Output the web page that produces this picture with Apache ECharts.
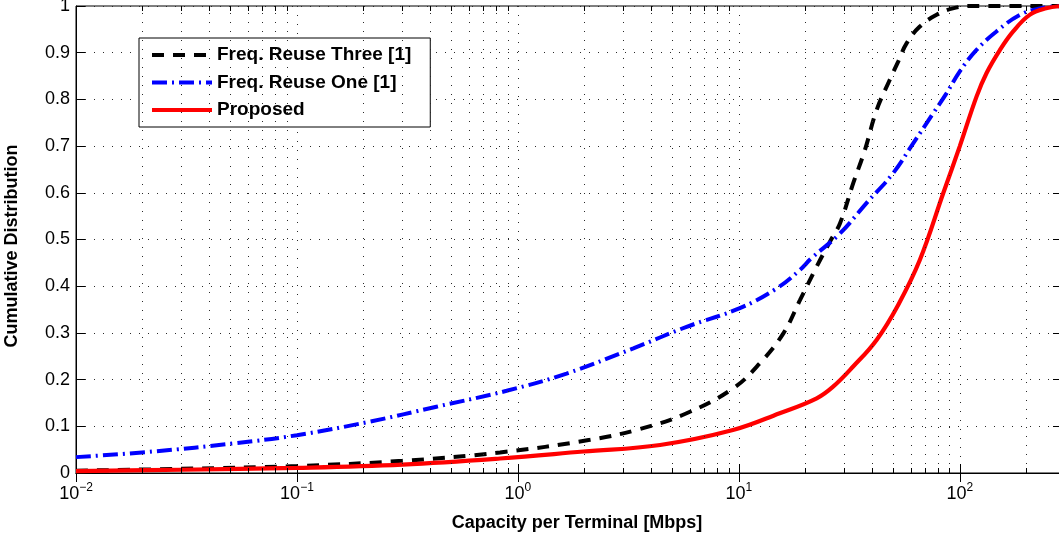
<!DOCTYPE html>
<html>
<head>
<meta charset="utf-8">
<script src="https://cdn.jsdelivr.net/npm/echarts@6/dist/echarts.min.js"></script>
<style>
  html, body { margin: 0; padding: 0; background: #fff; }
  #chart { width: 1059px; height: 535px; }
</style>
</head>
<body>
<div id="chart"></div>
<script>
// ---- Data ----
const seriesNames = ['Freq. Reuse Three [1]', 'Freq. Reuse One [1]', 'Proposed'];
const xTitle = 'Capacity per Terminal [Mbps]';
const yTitle = 'Cumulative Distribution';

const xThree = [0.01, 0.03, 0.1, 0.3, 0.83, 2.12, 3.56, 5.8, 9.4, 12.45, 15.9, 18.9, 22.5, 25.8, 28.7, 32.9, 37.2, 42, 48.2, 52.6, 57.4, 65.9, 78.5, 93, 115, 290];
const yThree = [0.005, 0.009, 0.015, 0.026, 0.044, 0.071, 0.094, 0.128, 0.181, 0.235, 0.299, 0.37, 0.442, 0.495, 0.535, 0.62, 0.692, 0.777, 0.842, 0.881, 0.92, 0.956, 0.981, 0.995, 1.0, 1.0];

const xOne = [0.01, 0.0223, 0.053, 0.1, 0.214, 0.428, 0.889, 1.66, 3.33, 5.8, 10.1, 14.8, 18.9, 21.3, 28.7, 37.8, 49.9, 61.5, 75.7, 87, 100, 119, 146, 187, 230, 290];
const yOne = [0.034, 0.046, 0.064, 0.081, 0.11, 0.142, 0.176, 0.213, 0.267, 0.313, 0.353, 0.395, 0.435, 0.46, 0.513, 0.578, 0.642, 0.706, 0.77, 0.813, 0.86, 0.906, 0.945, 0.981, 0.995, 1.0];

const xProp = [0.01, 0.03, 0.1, 0.3, 0.83, 1.98, 4.4, 9.4, 15.3, 22.5, 26.7, 32.9, 42, 52.6, 65.9, 84.1, 100, 119, 132, 152, 174, 207, 246, 290];
const yProp = [0.004, 0.007, 0.011, 0.018, 0.031, 0.046, 0.06, 0.092, 0.128, 0.16, 0.185, 0.228, 0.285, 0.36, 0.456, 0.599, 0.70, 0.806, 0.856, 0.906, 0.945, 0.981, 0.995, 1.0];

// axis settings
const xMin = 0.01, xMax = 290;
const decades = [0.01, 0.1, 1, 10, 100];
const minorMultipliers = [2, 3, 4, 5, 6, 7, 8, 9];
const yTicks = [0, 0.1, 0.2, 0.3, 0.4, 0.5, 0.6, 0.7, 0.8, 0.9, 1];

// ---- Build ----
const zip = (xs, ys) => xs.map((x, i) => [x, ys[i]]);
const minorVals = [];
decades.forEach(d => minorMultipliers.forEach(m => {
  const v = +(m * d).toPrecision(6);
  if (v < xMax) minorVals.push(v);
}));

const FONT = 'Liberation Sans, Arial, Helvetica, sans-serif';
const gridDot = { color: '#2a2a2a', width: 1, type: [1, 8] };
const minorTickLen = 0.0107; // ~5px in y units

const markGrid = minorVals.map(v => ({ xAxis: v, lineStyle: gridDot }));
const markTicks = [];
minorVals.forEach(v => {
  markTicks.push([{ coord: [v, 0], lineStyle: { color: '#000', width: 1, type: 'solid' } }, { coord: [v, minorTickLen] }]);
  markTicks.push([{ coord: [v, 1], lineStyle: { color: '#000', width: 1, type: 'solid' } }, { coord: [v, 1 - minorTickLen] }]);
});

const chart = echarts.init(document.getElementById('chart'), null, { renderer: 'canvas' });

const supMap = e => (e < 0 ? '\u2212' + Math.abs(e) : String(e));

chart.setOption({
  animation: false,
  backgroundColor: '#fff',
  textStyle: { fontFamily: FONT },
  grid: { left: 76, top: 6, width: 986, height: 467, containLabel: false, outerBoundsMode: 'none',
          show: true, borderColor: '#000', borderWidth: 1, backgroundColor: 'transparent' },
  graphic: [
    { type: 'text', x: 577, y: 523, silent: true,
      style: { text: xTitle, font: 'bold 18px ' + FONT, fill: '#000', align: 'center', verticalAlign: 'middle' } },
    { type: 'text', x: 12, y: 246, rotation: Math.PI / 2, silent: true,
      style: { text: yTitle, font: 'bold 18px ' + FONT, fill: '#000', align: 'center', verticalAlign: 'middle' } }
  ],
  legend: {
    data: seriesNames,
    orient: 'vertical',
    left: 139, top: 38,
    padding: [7, 19, 7, 11],
    backgroundColor: '#fff',
    borderColor: '#000', borderWidth: 1,
    itemWidth: 60, itemHeight: 14, itemGap: 7.5,
    itemStyle: { opacity: 0 },
    lineStyle: { width: 4 },
    selectedMode: false,
    textStyle: { fontFamily: FONT, fontSize: 19, fontWeight: 'bold', color: '#000', lineHeight: 20 }
  },
  xAxis: [{
    type: 'log', logBase: 10, min: xMin, max: xMax,
    axisLine: { show: true, lineStyle: { color: '#000', width: 1 } },
    axisTick: { show: true, inside: true, length: 9, lineStyle: { color: '#000' } },
    splitLine: { show: true, lineStyle: gridDot },
    minorTick: { show: false }, minorSplitLine: { show: false },
    axisLabel: {
      margin: 9, showMaxLabel: false,
      formatter: v => {
        const e = Math.log10(v);
        if (Math.abs(e - Math.round(e)) > 1e-6) return '';
        return '{b|10}{s|' + supMap(Math.round(e)) + '}';
      },
      rich: {
        b: { fontFamily: FONT, fontSize: 18, color: '#000', verticalAlign: 'bottom' },
        s: { fontFamily: FONT, fontSize: 12, color: '#000', verticalAlign: 'bottom', padding: [0, 0, 9, 0] }
      }
    }
  }, {
    type: 'log', logBase: 10, min: xMin, max: xMax, position: 'top',
    axisLine: { show: true, lineStyle: { color: '#000', width: 1 } },
    axisTick: { show: true, inside: true, length: 9, lineStyle: { color: '#000' } },
    axisLabel: { show: false }, splitLine: { show: false }
  }],
  yAxis: [{
    type: 'value', min: 0, max: 1, interval: 0.1,
    axisLine: { show: true, lineStyle: { color: '#000', width: 1 } },
    axisTick: { show: true, inside: true, length: 9, lineStyle: { color: '#000' } },
    splitLine: { show: true, lineStyle: gridDot },
    axisLabel: {
      margin: 6, fontFamily: FONT, fontSize: 18, color: '#000',
      formatter: v => {
        const t = yTicks.find(k => Math.abs(k - v) < 1e-9);
        if (t === undefined) return '';
        return (t === 0 || t === 1) ? String(t) : t.toFixed(1);
      }
    }
  }, {
    type: 'value', min: 0, max: 1, interval: 0.1, position: 'right',
    axisLine: { show: true, lineStyle: { color: '#000', width: 1 } },
    axisTick: { show: true, inside: true, length: 9, lineStyle: { color: '#000' } },
    axisLabel: { show: false }, splitLine: { show: false }
  }],
  series: [
    {
      name: '_grid', type: 'line', z: 1, silent: true,
      data: zip(xProp, yProp), symbol: 'none',
      lineStyle: { opacity: 0, width: 0 },
      markLine: {
        silent: true, symbol: ['none', 'none'], label: { show: false },
        animation: false,
        data: markGrid.concat(markTicks)
      }
    },
    {
      name: seriesNames[0], type: 'line', z: 3,
      data: zip(xThree, yThree), symbol: 'none', smooth: 0.4,
      lineStyle: { color: '#000', width: 4, type: [12, 9] },
      itemStyle: { color: '#000' }
    },
    {
      name: seriesNames[1], type: 'line', z: 3,
      data: zip(xOne, yOne), symbol: 'none', smooth: 0.4,
      lineStyle: { color: '#0000ff', width: 4, type: [15, 5, 2, 5] },
      itemStyle: { color: '#0000ff' }
    },
    {
      name: seriesNames[2], type: 'line', z: 4,
      data: zip(xProp, yProp), symbol: 'none', smooth: 0.4,
      lineStyle: { color: '#ff0000', width: 4.2, type: 'solid' },
      itemStyle: { color: '#ff0000' }
    }
  ]
});
</script>
</body>
</html>
